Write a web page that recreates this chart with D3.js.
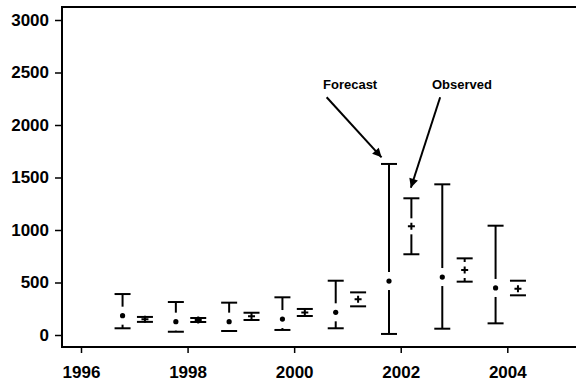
<!DOCTYPE html>
<html>
<head>
<meta charset="utf-8">
<script src="https://cdn.jsdelivr.net/npm/d3@7"></script>
<style>
  body { margin: 0; background: #fff; }
  text { font-family: "Liberation Sans", Arial, sans-serif; font-weight: bold; fill: #000; }
</style>
</head>
<body>
<svg id="chart" width="576" height="381"></svg>
<script>
// values
var years = [1997, 1998, 1999, 2000, 2001, 2002, 2003, 2004];
var fc_mid = [184, 127, 127, 152, 216, 514, 552, 448];
var fc_lo = [64, 31, 38, 48, 64, 10, 60, 111];
var fc_hi = [390, 314, 308, 359, 517, 1629, 1435, 1041];
var obs_mid = [150, 142, 178, 214, 340, 1035, 619, 441];
var obs_lo = [125, 124, 143, 181, 273, 769, 508, 378];
var obs_hi = [172, 162, 212, 248, 406, 1302, 730, 517];
var x_ticks = [1996, 1998, 2000, 2002, 2004];
var y_ticks = [0, 500, 1000, 1500, 2000, 2500, 3000];

var svg = d3.select("#chart");

var x = d3.scaleLinear().domain([1996, 2004]).range([81, 507.3]);
var y = d3.scaleLinear().domain([0, 3000]).range([335, 20]);

// frame (left, top, bottom; right side runs off the picture)
svg.append("path")
    .attr("d", "M576,7H62V347H576")
    .attr("fill", "none").attr("stroke", "#000").attr("stroke-width", 2);

var yAxis = svg.append("g")
    .attr("transform", "translate(62,0)")
    .call(d3.axisLeft(y).tickValues(y_ticks).tickSize(7).tickPadding(6).tickFormat(d3.format("d")));
var xAxis = svg.append("g")
    .attr("transform", "translate(0,347)")
    .call(d3.axisBottom(x).tickValues(x_ticks).tickSize(6).tickPadding(13).tickFormat(d3.format("d")));

[yAxis, xAxis].forEach(function(g){
    g.select(".domain").remove();
    g.selectAll("line").attr("stroke", "#000").attr("stroke-width", 1.5);
    g.selectAll("text").style("font-size", "17px").style("font-weight", "bold")
        .style("font-family", "'Liberation Sans', Arial, sans-serif").attr("fill", "#000");
});

var g_bars = svg.append("g");
var cap = 8;

function draw_bar(xc, lo, mid, hi, gap){
    var yl = y(lo), ym = y(mid), yh = y(hi);
    if (ym - gap > yh)
        g_bars.append("line").attr("x1", xc).attr("x2", xc).attr("y1", yh).attr("y2", ym - gap);
    if (ym + gap < yl)
        g_bars.append("line").attr("x1", xc).attr("x2", xc).attr("y1", ym + gap).attr("y2", yl);
    g_bars.append("line").attr("x1", xc - cap).attr("x2", xc + cap).attr("y1", yh).attr("y2", yh);
    g_bars.append("line").attr("x1", xc - cap).attr("x2", xc + cap).attr("y1", yl).attr("y2", yl);
}

years.forEach(function(yr, i){
    // forecast: dot
    var xf = x(yr - 0.22);
    draw_bar(xf, fc_lo[i], fc_mid[i], fc_hi[i], 9);
    g_bars.append("circle").attr("cx", xf).attr("cy", y(fc_mid[i])).attr("r", 2.6).attr("fill", "#000");

    // observed: plus
    var xo = x(yr + 0.2);
    draw_bar(xo, obs_lo[i], obs_mid[i], obs_hi[i], 8);
    var ym = y(obs_mid[i]);
    g_bars.append("path")
        .attr("d", "M" + (xo - 3.5) + "," + ym + "H" + (xo + 3.5) + "M" + xo + "," + (ym - 3.5) + "V" + (ym + 3.5))
        .attr("fill", "none");
});
g_bars.selectAll("line,path").attr("stroke", "#000").attr("stroke-width", 2);

// annotations
svg.append("defs").append("marker")
    .attr("id", "head").attr("viewBox", "0 0 10 10")
    .attr("refX", 10).attr("refY", 5)
    .attr("markerWidth", 11).attr("markerHeight", 9)
    .attr("markerUnits", "userSpaceOnUse")
    .attr("orient", "auto")
    .append("path").attr("d", "M0,0L10,5L0,10Z").attr("fill", "#000");

var notes = [
    {label: "Forecast", tx: 2001.05, ty: 2343, x0: 2000.61, y0: 2264, x1: 2001.64, y1: 1692},
    {label: "Observed", tx: 2003.15, ty: 2343, x0: 2002.74, y0: 2264, x1: 2002.19, y1: 1403}
];
notes.forEach(function(n){
    svg.append("text")
        .attr("x", x(n.tx)).attr("y", y(n.ty))
        .attr("text-anchor", "middle")
        .style("font-size", "13px")
        .text(n.label);
    svg.append("line")
        .attr("x1", x(n.x0)).attr("y1", y(n.y0))
        .attr("x2", x(n.x1)).attr("y2", y(n.y1))
        .attr("stroke", "#000").attr("stroke-width", 2)
        .attr("marker-end", "url(#head)");
});
</script>
</body>
</html>
